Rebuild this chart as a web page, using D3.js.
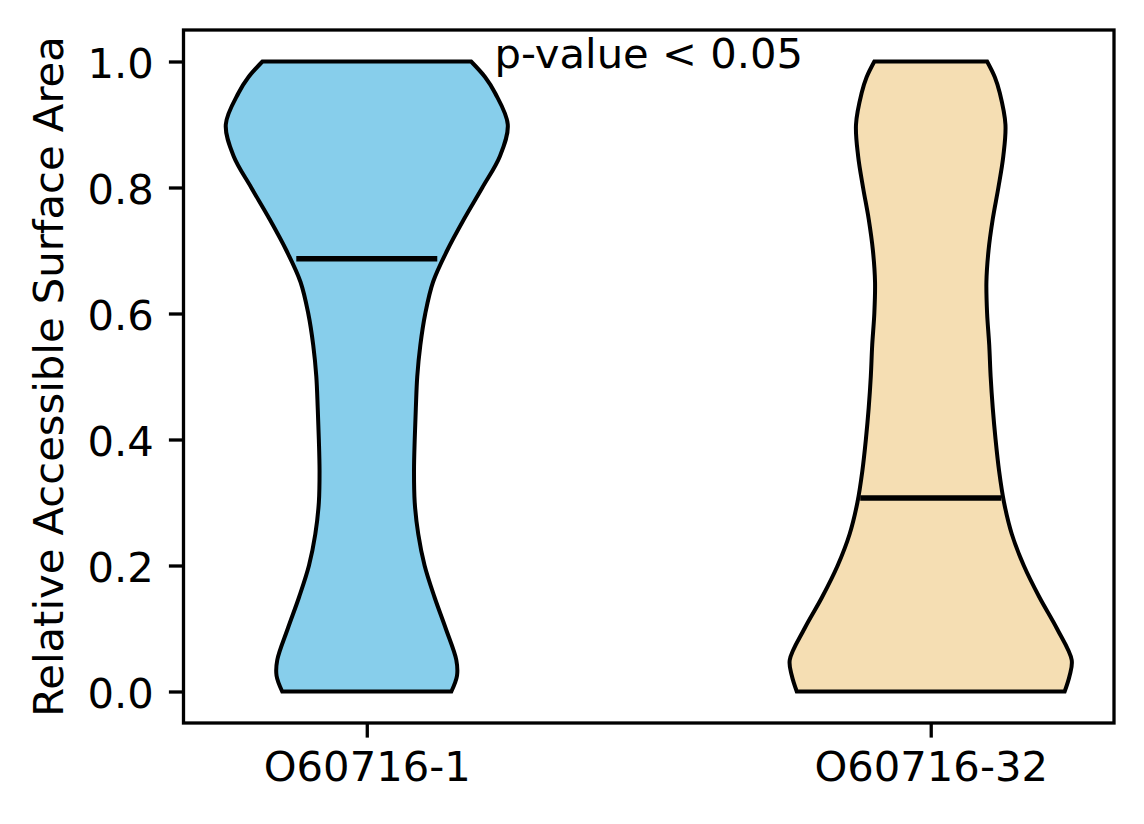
<!DOCTYPE html>
<html>
<head>
<meta charset="utf-8">
<script src="https://cdn.jsdelivr.net/npm/d3@7"></script>
<style>
    body { margin: 0; background: #fff; }
    text { font-family: "DejaVu Sans", sans-serif; fill: #000; }
</style>
</head>
<body>
<svg id="chart"></svg>
<script>
// categories and y ticks
var categories = ["O60716-1", "O60716-32"];
var colors = ["#87CEEB", "#F5DEB3"];
var yTicks = [0.0, 0.2, 0.4, 0.6, 0.8, 1.0];

// violin outlines: value -> relative half-width (max = 1)
var grid = [0.00, 0.025, 0.05, 0.10, 0.15, 0.20, 0.25, 0.30, 0.35, 0.40, 0.45, 0.50,
            0.55, 0.60, 0.65, 0.70, 0.75, 0.80, 0.85, 0.90, 0.95, 0.975, 1.00];
var density_1 = [0.60, 0.64, 0.635, 0.56, 0.48, 0.41, 0.365, 0.34, 0.335, 0.34, 0.348, 0.358,
                 0.38, 0.415, 0.47, 0.57, 0.69, 0.82, 0.945, 1.00, 0.91, 0.84, 0.74];
var density_2 = [0.95, 0.985, 1.00, 0.895, 0.77, 0.66, 0.575, 0.52, 0.485, 0.46, 0.44, 0.425,
                 0.415, 0.40, 0.395, 0.41, 0.44, 0.48, 0.515, 0.53, 0.49, 0.455, 0.40];
var medians = [0.687, 0.307];
var pText = "p-value < 0.05";

var margin = {top: 30, right: 30, bottom: 101, left: 183.5},
    width = 1144 - margin.left - margin.right,
    height = 824 - margin.top - margin.bottom;

var fontSize = "41.7px";

var svg = d3.select("#chart")
    .attr("width", 1144)
    .attr("height", 824)
    .append("g")
    .attr("transform", "translate(" + margin.left + "," + margin.top + ")");

var violinWidth = 0.5;

var xScale = d3.scaleLinear()
    .domain([0.675, 2.325])
    .range([0, width]);

var yScale = d3.scaleLinear()
    .domain([-0.05, 1.05])
    .range([height, 0]);

var densities = [density_1, density_2];

var area = function(pos) {
    return d3.area()
        .curve(d3.curveCatmullRom.alpha(0.5))
        .y(function(d) { return yScale(d[0]); })
        .x0(function(d) { return xScale(pos - d[1] * violinWidth / 2); })
        .x1(function(d) { return xScale(pos + d[1] * violinWidth / 2); });
};

// violins
categories.forEach(function(c, i) {
    var pos = i + 1;
    var pts = grid.map(function(v, j) { return [v, densities[i][j]]; });
    svg.append("path")
        .datum(pts)
        .attr("d", area(pos))
        .attr("fill", colors[i])
        .attr("stroke", "#000")
        .attr("stroke-width", 4)
        .attr("stroke-linejoin", "miter");
});

// medians
svg.selectAll(".median")
    .data(medians)
    .enter()
    .append("line")
    .attr("class", "median")
    .attr("x1", function(d, i) { return xScale(i + 1 - violinWidth / 4); })
    .attr("x2", function(d, i) { return xScale(i + 1 + violinWidth / 4); })
    .attr("y1", function(d) { return yScale(d); })
    .attr("y2", function(d) { return yScale(d); })
    .attr("stroke", "#000")
    .attr("stroke-width", 5.5);

// axes
var yAxis = svg.append("g")
    .call(d3.axisLeft(yScale)
        .tickValues(yTicks)
        .tickFormat(d3.format(".1f"))
        .tickSize(14.6)
        .tickPadding(15));

var xAxis = svg.append("g")
    .attr("transform", "translate(0," + height + ")")
    .call(d3.axisBottom(xScale)
        .tickValues([1, 2])
        .tickFormat(function(d) { return categories[d - 1]; })
        .tickSize(14.6)
        .tickPadding(14));

[yAxis, xAxis].forEach(function(a) {
    a.select(".domain").remove();
    a.selectAll(".tick line").attr("stroke", "#000").attr("stroke-width", 3.3);
    a.selectAll(".tick text")
        .style("font-family", "'DejaVu Sans', sans-serif")
        .style("font-size", fontSize)
        .attr("fill", "#000");
});
yAxis.selectAll(".tick text").attr("dy", "0.38em");
xAxis.selectAll(".tick text").attr("dy", "0.71em");

// frame
svg.append("rect")
    .attr("x", 0)
    .attr("y", 0)
    .attr("width", width)
    .attr("height", height)
    .attr("fill", "none")
    .attr("stroke", "#000")
    .attr("stroke-width", 3.3);

// y label
svg.append("text")
    .attr("transform", "rotate(-90)")
    .attr("x", -height / 2)
    .attr("y", 63 - margin.left)
    .style("text-anchor", "middle")
    .style("font-size", fontSize)
    .text("Relative Accessible Surface Area");

// annotation
svg.append("text")
    .attr("x", xScale(1.5))
    .attr("y", yScale(1.0) + 6)
    .style("text-anchor", "middle")
    .style("font-size", fontSize)
    .text(pText);
</script>
</body>
</html>
